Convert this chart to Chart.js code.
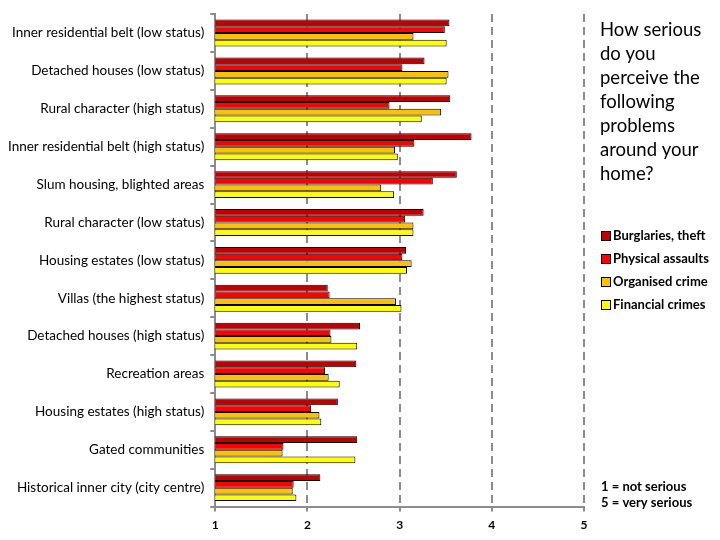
<!DOCTYPE html>
<html>
<head>
<meta charset="utf-8">
<script src="https://cdn.jsdelivr.net/npm/chart.js@4"></script>
<style>
  html, body { margin: 0; padding: 0; background: #fff; }
  #wrap { width: 720px; height: 540px; position: relative; }
</style>
</head>
<body>
<div id="wrap"><canvas id="chart"></canvas></div>
<script>
const categories = [
    'Inner residential belt (low status)',
    'Detached houses (low status)',
    'Rural character (high status)',
    'Inner residential belt (high status)',
    'Slum housing, blighted areas',
    'Rural character (low status)',
    'Housing estates (low status)',
    'Villas (the highest status)',
    'Detached houses (high status)',
    'Recreation areas',
    'Housing estates (high status)',
    'Gated communities',
    'Historical inner city (city centre)'
];

const burglaries = [3.54, 3.27, 3.55, 3.78, 3.62, 3.26, 3.07, 2.22, 2.57, 2.53, 2.33, 2.54, 2.14];
const assaults   = [3.49, 3.03, 2.89, 3.16, 3.36, 3.06, 3.03, 2.24, 2.25, 2.19, 2.04, 1.74, 1.85];
const organised  = [3.15, 3.53, 3.45, 2.95, 2.80, 3.15, 3.13, 2.96, 2.26, 2.23, 2.13, 1.73, 1.84];
const financial  = [3.51, 3.51, 3.24, 2.98, 2.94, 3.15, 3.08, 3.02, 2.54, 2.35, 2.15, 2.52, 1.88];

const seriesNames = ['Burglaries, theft', 'Physical assaults', 'Organised crime', 'Financial crimes'];
const seriesColors = ['#C00000', '#FF0000', '#FFC000', '#FFFF00'];
const xTicks = [1, 2, 3, 4, 5];

const question = ['How serious', 'do you', 'perceive the', 'following', 'problems', 'around your', 'home?'];
const scaleNote = ['1 = not serious', '5 = very serious'];

const FONT = 'Lato, "DejaVu Sans", sans-serif';

// text and legend on the right-hand side
const sidePanel = {
    id: 'sidePanel',
    afterDraw(chart) {
        const ctx = chart.ctx;
        ctx.save();
        ctx.fillStyle = '#000';
        ctx.textBaseline = 'middle';
        ctx.font = '18.5px ' + FONT;
        question.forEach((line, i) => ctx.fillText(line, 600, 30 + i * 24));

        ctx.font = 'bold 13px ' + FONT;
        chart.data.datasets.forEach((ds, i) => {
            const y = 236 + i * 23;
            ctx.fillStyle = ds.backgroundColor;
            ctx.fillRect(601.5, y - 4.5, 9, 9);
            ctx.strokeStyle = '#000';
            ctx.lineWidth = 1;
            ctx.strokeRect(601.5, y - 4.5, 9, 9);
            ctx.fillStyle = '#000';
            ctx.fillText(ds.label, 613, y);
        });

        ctx.font = 'bold 13px ' + FONT;
        scaleNote.forEach((line, i) => ctx.fillText(line, 601, 487 + i * 16));
        ctx.restore();
    }
};

// dashed vertical gridlines at 2..5
const dashGrid = {
    id: 'dashGrid',
    beforeDatasetsDraw(chart) {
        const { ctx, chartArea, scales } = chart;
        ctx.save();
        ctx.strokeStyle = '#8c8c8c';
        ctx.lineWidth = 2;
        ctx.setLineDash([8, 5]);
        xTicks.slice(1).forEach(v => {
            const x = Math.round(scales.x.getPixelForValue(v));
            ctx.beginPath();
            ctx.moveTo(x, chartArea.top);
            ctx.lineTo(x, chartArea.bottom);
            ctx.stroke();
        });
        ctx.restore();
    }
};

const datasets = [burglaries, assaults, organised, financial].map((vals, i) => ({
    label: seriesNames[i],
    data: vals,
    backgroundColor: seriesColors[i],
    borderColor: '#000',
    borderWidth: 1,
    borderSkipped: false,
    barPercentage: 1.0,
    categoryPercentage: 0.71
}));

new Chart(document.getElementById('chart'), {
    type: 'bar',
    data: { labels: categories, datasets: datasets },
    options: {
        indexAxis: 'y',
        responsive: true,
        maintainAspectRatio: false,
        animation: false,
        layout: { padding: { top: 12, right: 136, bottom: 2, left: 2 } },
        plugins: {
            legend: { display: false },
            tooltip: { enabled: false }
        },
        scales: {
            x: {
                min: 1,
                max: 5,
                afterBuildTicks: axis => { axis.ticks = xTicks.map(v => ({ value: v })); },
                grid: {
                    drawOnChartArea: false,
                    color: '#8c8c8c',
                    lineWidth: 2,
                    tickLength: 5
                },
                border: { color: '#8c8c8c', width: 2 },
                ticks: {
                    color: '#000',
                    font: { family: FONT, size: 12, weight: 'bold' },
                    padding: 6
                }
            },
            y: {
                grid: {
                    offset: true,
                    drawOnChartArea: false,
                    color: '#8c8c8c',
                    lineWidth: 2,
                    tickLength: 5
                },
                border: { color: '#8c8c8c', width: 2 },
                ticks: {
                    color: '#000',
                    font: { family: FONT, size: 13.5 },
                    padding: 6
                }
            }
        }
    },
    plugins: [sidePanel, dashGrid]
});
</script>
</body>
</html>
